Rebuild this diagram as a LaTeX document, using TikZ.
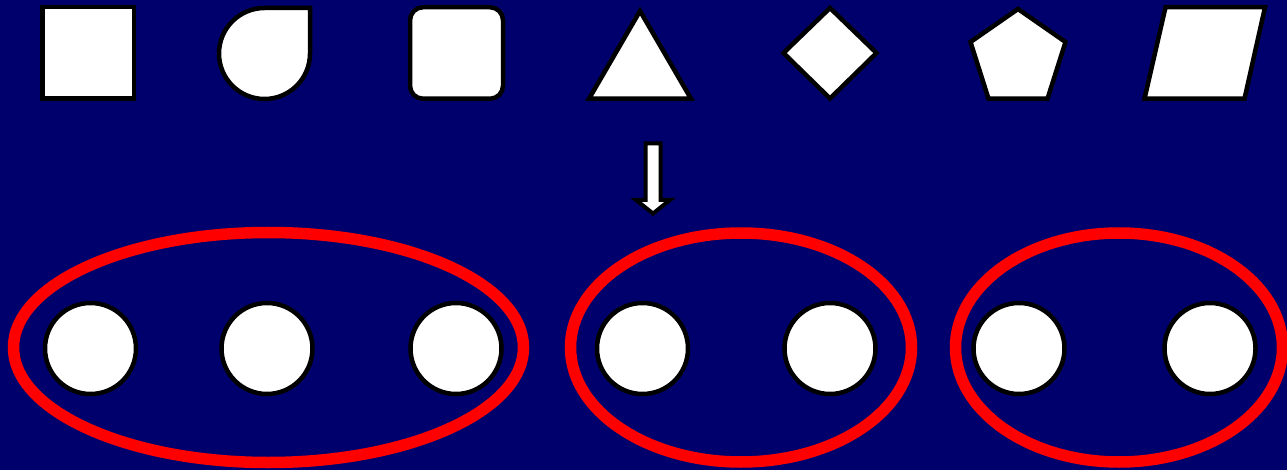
\documentclass[tikz,border=0pt]{standalone}
\usetikzlibrary{shapes.geometric}
\definecolor{navy}{RGB}{0,0,108}
\begin{document}
\begin{tikzpicture}[x=1pt,y=-1pt,
  shp/.style={draw=black,fill=white,line width=4.5pt,line join=miter},
  dot/.style={circle,draw=black,fill=white,line width=4.5pt,minimum size=91pt,inner sep=0pt},
  grp/.style={draw=red,line width=11.5pt},
  arr/.style={draw=black,fill=white,line width=4pt,line join=miter}]
\fill[navy] (0,0) rectangle (1287,470);
\useasboundingbox (0,0) rectangle (1287,470);
% top row of shapes
\draw[shp] (42.25,7.25) rectangle (133.75,98.75);
\draw[shp] (264.5,8) -- (310,8) -- (310,53.5) arc[start angle=0,end angle=-270,radius=45.5pt] -- cycle;
\draw[shp,rounded corners=13pt] (410,7.25) rectangle (503,98.75);
\draw[shp] (640,11) -- (691,98.75) -- (589,98.75) -- cycle;
\draw[shp] (830,8) -- (876.5,53) -- (830,98.5) -- (783.5,53) -- cycle;
\draw[shp] (1018,9) -- (1065.5,42) -- (1047.5,98.75) -- (988.5,98.75) -- (970.5,42) -- cycle;
\draw[shp] (1165.5,7.25) -- (1265,7.25) -- (1244.5,98.75) -- (1144.5,98.75) -- cycle;
% arrow
\draw[arr] (645.5,143.5) -- (660.5,143.5) -- (660.5,200) -- (670,200) -- (653,213.5) -- (636,200) -- (645.5,200) -- cycle;
% circles
\node[dot] (c1) at (90.5,348.5) {};
\node[dot] (c2) at (267,348.5) {};
\node[dot] (c3) at (456,348.5) {};
\node[dot] (c4) at (642.5,348.5) {};
\node[dot] (c5) at (830,348.5) {};
\node[dot] (c6) at (1019,348.5) {};
\node[dot] (c7) at (1210,348.5) {};
% groups
\draw[grp] (268.5,347.5) ellipse [x radius=255pt, y radius=115pt];
\draw[grp] (741,347.5) ellipse [x radius=170.5pt, y radius=114.5pt];
\draw[grp] (1119,347.5) ellipse [x radius=163.5pt, y radius=114.5pt];
\end{tikzpicture}
\end{document}
